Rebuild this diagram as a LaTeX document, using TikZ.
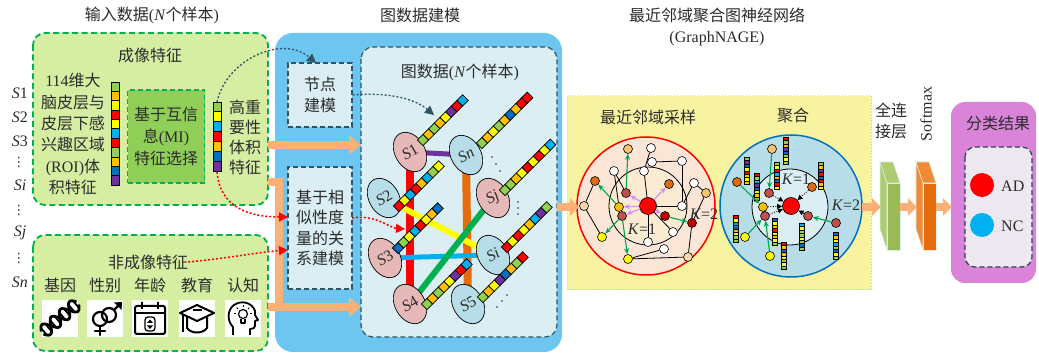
\documentclass[tikz,border=0pt]{standalone}
\usepackage{fontspec}
\setmainfont{Liberation Serif}
\newfontfamily\zhfont{Noto Sans CJK SC}
\newfontfamily\symfont{DejaVu Sans}
\newcommand\zhf[1]{{\zhfont #1}}
\usetikzlibrary{arrows.meta,shapes.geometric}

% feature colours
\definecolor{fG}{HTML}{92D050}
\definecolor{fO}{HTML}{FFC000}
\definecolor{fY}{HTML}{FFFF00}
\definecolor{fR}{HTML}{FF0000}
\definecolor{fC}{HTML}{00B0F0}
\definecolor{fB}{HTML}{0070C0}
\definecolor{fP}{HTML}{7030A0}
% panel colours
\definecolor{panelgreen}{HTML}{D5EEA2}
\definecolor{dashgreen}{HTML}{00B050}
\definecolor{migreen}{HTML}{8FCF57}
\definecolor{skyblue}{HTML}{6CC6F0}
\definecolor{paleblue}{HTML}{DAEEF3}
\definecolor{tealline}{HTML}{2E5566}
\definecolor{nodepink}{HTML}{E6B9B8}
\definecolor{nodeblue}{HTML}{B7DDE8}
\definecolor{paleyellow}{HTML}{F7F3A0}
\definecolor{yellowedge}{HTML}{C8E6A0}
\definecolor{peach}{HTML}{FAB177}
\definecolor{samplefill}{HTML}{FBE5D6}
\definecolor{sampleinner}{HTML}{FCEBD3}
\definecolor{aggedge}{HTML}{0070C0}
\definecolor{slabgreen}{HTML}{9BBB59}
\definecolor{slabgreenside}{HTML}{AECB70}
\definecolor{slaborange}{HTML}{E46C0A}
\definecolor{slaborangeside}{HTML}{F08A35}
\definecolor{resultpink}{HTML}{D984D9}
\definecolor{resultinner}{HTML}{EDE7F0}
\definecolor{txt}{HTML}{2B2B2B}
\definecolor{pinkarrow}{HTML}{DA8CEB}
\definecolor{arrowgreen}{HTML}{00A550}
\definecolor{lightorange}{HTML}{FAC46A}
\definecolor{darkorange}{HTML}{E06A10}
\definecolor{brownred}{HTML}{C0504D}
\definecolor{darkred}{HTML}{C00000}
\definecolor{peachnode}{HTML}{FBD7A6}
\definecolor{slabedge}{HTML}{D8EEE8}

% a bar of coloured cells: x, y (centre of first cell), direction angle, cell length, cell width, line width, colours
\newcommand\featbar[7]{%
  \begin{scope}[shift={(#1,#2)}, rotate=#3]
    \foreach \c [count=\i from 0] in {#7}
      \draw[fill=\c, line width=#6] ({(\i-0.5)*#4}, {-#5/2}) rectangle ({(\i+0.5)*#4}, {#5/2});
  \end{scope}}

\tikzset{
  lbl/.style={font=\fontsize{16}{21}\selectfont, text=txt, align=center, inner sep=0pt},
  vdot/.style={font=\symfont\fontsize{13}{13}\selectfont, text=txt, inner sep=0pt},
  panelg/.style={draw=dashgreen, line width=1.8pt, dash pattern=on 6pt off 3.5pt, fill=panelgreen, rounded corners=12pt},
  tealbox/.style={draw=tealline, line width=1.2pt, dash pattern=on 5pt off 3pt, fill=paleblue},
  snode/.style={ellipse, draw, line width=0.7pt, minimum width=30pt, minimum height=42pt, inner sep=0pt, rotate=30, font=\fontsize{16}{18}\selectfont, text=txt},
  gn/.style={circle, draw, line width=0.6pt, minimum size=9pt, inner sep=0pt},
  gedge/.style={line width=0.8pt},
  pinkarr/.style={draw=pinkarrow, line width=1.2pt, -{Stealth[length=6pt,width=5pt]}},
  greenarr/.style={draw=arrowgreen, line width=1.1pt, -{Stealth[length=6pt,width=5pt]}},
  blackdot/.style={line width=0.8pt, dash pattern=on 1pt off 1.5pt, -{Triangle[length=5pt,width=5pt]}},
  peachline/.style={draw=peach, line width=8pt},
  peacharrow/.style={draw=peach, line width=8pt, -{Triangle[length=12pt,width=19pt]}},
  peachsmall/.style={draw=peach, line width=8pt, -{Triangle[length=9pt,width=17pt]}},
  tealdot/.style={draw=tealline, line width=1.3pt, dash pattern=on 2pt off 2pt, -{Triangle[length=9pt,width=9pt]}},
  reddot/.style={draw=fR, line width=1.5pt, dash pattern=on 2pt off 2pt, -{Triangle[length=9pt,width=9pt]}},
  icon/.style={line width=2.2pt, line join=round, line cap=round},
}

\begin{document}
\begin{tikzpicture}[x=1pt, y=-1pt]
\useasboundingbox (0,0) rectangle (1039,355);

% ---------------- panels ----------------
\draw[panelg] (33,33) rectangle (268,205);
\draw[panelg] (33,235) rectangle (268,351);
\fill[skyblue, rounded corners=18pt] (275,33) rectangle (562,352);
\draw[tealbox, rounded corners=12pt] (361,47) rectangle (557,337);
\draw[draw=yellowedge, fill=paleyellow, line width=1pt, dash pattern=on 1.5pt off 1.5pt] (567,96) rectangle (871,290);
\draw[draw=none, fill=resultpink, rounded corners=14pt] (951,102) rectangle (1036,283);
\draw[draw=tealline!80!black, line width=1.2pt, dash pattern=on 5pt off 3pt, fill=resultinner, rounded corners=10pt] (965,147) rectangle (1032,267);

% ---------------- titles ----------------
\node[lbl] (tin) at (152,15) {\zhf{输入数据}(\textit{N}\zhf{个样本})};
\node[lbl] (tgm) at (420,15) {\zhf{图数据建模}};
\node[lbl] (tnn) at (717,27) {\zhf{最近邻域聚合图神经网络}\\(GraphNAGE)};

% ---------------- subject labels ----------------
\begin{scope}[every node/.style={lbl}]
  \node (l1) at (20,93) {\textit{S}1};
  \node (l2) at (20,117) {\textit{S}2};
  \node (l3) at (20,141) {\textit{S}3};
  \node (li) at (20,185) {\textit{Si}};
  \node (lj) at (20,233) {\textit{Sj}};
  \node (ln) at (20,282) {\textit{Sn}};
\end{scope}
\node[vdot] (d1) at (19,162) {⋮};
\node[vdot] (d2) at (19,210) {⋮};
\node[vdot] (d3) at (19,258) {⋮};

% ---------------- imaging features ----------------
\node[lbl] (imgtitle) at (150,55) {\zhf{成像特征}};
\node[lbl, font=\fontsize{16}{21.3}\selectfont] (roi) at (73,134) {114\zhf{维大}\\\zhf{脑皮层与}\\\zhf{皮层下感}\\\zhf{兴趣区域}\\(ROI)\zhf{体}\\\zhf{积特征}};
\featbar{115}{86.7}{-90}{9.36}{8}{0.7pt}{fG,fO,fY,fR,fY,fC,fR,fG,fO,fB,fP}
\node[lbl, draw=dashgreen, fill=migreen, line width=1.5pt, dash pattern=on 5pt off 3pt, minimum width=77pt, minimum height=93pt, font=\fontsize{16}{22}\selectfont] (mi) at (166,136.5) {\zhf{基于互信}\\\zhf{息}(MI)\\\zhf{特征选择}};
\featbar{217}{106.9}{-90}{9.86}{8}{0.7pt}{fG,fY,fC,fR,fO,fB,fP}
\coordinate (bartop) at (217,102);
\coordinate (barbot) at (217,172);
\node[lbl, font=\fontsize{16}{20}\selectfont] (hi) at (245,137) {\zhf{高重}\\\zhf{要性}\\\zhf{体积}\\\zhf{特征}};

% ---------------- non-imaging features ----------------
\node[lbl] (nonimg) at (148,262) {\zhf{非成像特征}};
\node[lbl] (kgene) at (60,285) {\zhf{基因}};
\node[lbl] (ksex) at (105,285) {\zhf{性别}};
\node[lbl] (kage) at (150,285) {\zhf{年龄}};
\node[lbl] (kedu) at (197,285) {\zhf{教育}};
\node[lbl] (kcog) at (243,285) {\zhf{认知}};

% gene: double helix
\begin{scope}[shift={(60,318)}]
  \fill[white] (-18,-18) rectangle (18,19);
  \begin{scope}[rotate=40]
    \draw[line width=2.8pt, domain=-23:23, samples=60] plot (\x, {6.5*sin(\x*15)});
    \draw[line width=2.8pt, domain=-23:23, samples=60] plot (\x, {-6.5*sin(\x*15)});
    \foreach \t in {-21,-15,-9,-3,3,9,15,21}
      \draw[line width=1.8pt] (\t,{6.5*sin(\t*15)}) -- (\t,{-6.5*sin(\t*15)});
  \end{scope}
\end{scope}
% sex: venus and mars
\begin{scope}[shift={(105,318)}, icon]
  \fill[white] (-18,-18) rectangle (18,19);
  \draw (-5,1) circle (7);
  \draw (-5,8) -- (-5,17);
  \draw (-10,13) -- (0,13);
  \draw (4,-3) circle (7);
  \draw (9,-8) -- (14,-13);
  \fill (17,-16) -- (9,-15.5) -- (16.5,-8) -- cycle;
\end{scope}
% age: calendar
\begin{scope}[shift={(150,318)}, line width=2pt, line join=round]
  \fill[white] (-18,-18) rectangle (18,19);
  \draw[rounded corners=2pt] (-15,-12) rectangle (15,16);
  \draw (-15,-5) -- (15,-5);
  \draw[line width=2.6pt] (-8,-16) -- (-8,-9);
  \draw[line width=2.6pt] (8,-16) -- (8,-9);
  \draw[rounded corners=3pt, line width=1.3pt] (-5,-1) rectangle (5,13);
  \fill (-3,5) -- (3,5) -- (0,1.5) -- cycle;
  \fill (-3,7.5) -- (3,7.5) -- (0,11) -- cycle;
\end{scope}
% education: mortarboard
\begin{scope}[shift={(197,318)}, line width=2pt, line join=round]
  \fill[white] (-18,-18) rectangle (18,19);
  \draw (-17,-5) -- (0,-13) -- (17,-5) -- (0,3) -- cycle;
  \draw (-10,-1) -- (-10,10) .. controls (-6,16) and (6,16) .. (10,10) -- (10,-1);
  \draw (-14,-3) -- (-14,14);
  \draw[line width=1.6pt] (-4,-8) -- (5,-8);
\end{scope}
% cognition: head with lightbulb
\begin{scope}[shift={(243,318)}, line width=1.8pt, line join=round]
  \fill[white] (-18,-18) rectangle (18,19);
  \draw (-10,17) -- (-10,9) .. controls (-16,3) and (-16,-8) .. (-9,-13)
        .. controls (-2,-18) and (9,-16) .. (12,-7) -- (12,-3) -- (15,2) -- (12,3)
        -- (12,8) .. controls (12,10) and (10,11) .. (7,11) -- (7,17);
  \draw[line width=1.2pt] (0,-4) circle (4.5);
  \draw[line width=1.2pt] (-2,1) -- (-2,5) -- (2,5) -- (2,1);
  \foreach \a in {90,135,45,180,0}
    \draw[line width=1pt] ({7*cos(\a)},{-4-7*sin(\a)}) -- ({9*cos(\a)},{-4-9*sin(\a)});
\end{scope}

% ---------------- graph modelling ----------------
\node[lbl, tealbox, minimum width=64pt, minimum height=64pt] (nodebox) at (320,95) {\zhf{节点}\\\zhf{建模}};
\node[lbl, tealbox, minimum width=64pt, minimum height=122pt, font=\fontsize{16}{20.5}\selectfont] (relbox) at (320,228) {\zhf{基于相}\\\zhf{似性度}\\\zhf{量的关}\\\zhf{系建模}};
\node[lbl] (gtitle) at (460,72) {\zhf{图数据}(\textit{N}\zhf{个样本})};

% subject positions
\coordinate (c1) at (410,152);
\coordinate (cn) at (466,155);
\coordinate (c2) at (384,198);
\coordinate (cj) at (493,198);
\coordinate (c3) at (385,258);
\coordinate (ci) at (493,255);
\coordinate (c4) at (410,304);
\coordinate (c5) at (468,304);

% similarity edges
\draw[line width=5pt, fP] (c1) -- (cn);
\draw[line width=8pt, fR] (c1) -- (c4);
\draw[line width=8pt, slaborange] (cn) -- (c5);
\draw[line width=6pt, fY] (c2) -- (ci);
\draw[line width=5pt, fC] (c3) -- (ci);
\draw[line width=6pt, dashgreen] (c4) -- (cj);

% subjects
\node[snode, fill=nodepink] (S1) at (c1) {\textit{S}1};
\node[snode, fill=nodeblue] (Sn) at (cn) {\textit{Sn}};
\node[snode, fill=nodeblue] (S2) at (c2) {\textit{S}2};
\node[snode, fill=nodepink] (Sj) at (cj) {\textit{Sj}};
\node[snode, fill=nodepink] (S3) at (c3) {\textit{S}3};
\node[snode, fill=nodeblue] (Si) at (ci) {\textit{Si}};
\node[snode, fill=nodepink] (S4) at (c4) {\textit{S}4};
\node[snode, fill=nodeblue] (S5) at (c5) {\textit{S}5};

% node feature vectors
\featbar{423}{140}{45}{8}{8}{0.7pt}{fG,fO,fG,fO,fY,fP,fR,fC}
\featbar{482}{143}{45}{8}{8}{0.7pt}{fG,fO,fY,fG,fO,fB,fO,fR,fR}
\featbar{399}{206}{45}{8}{8}{0.7pt}{fR,fY,fC,fR,fO,fC,fG,fY}
\featbar{505}{190}{45}{8}{8}{0.7pt}{fG,fG,fO,fY,fR,fY,fR,fY,fC}
\featbar{398}{248}{45}{8}{8}{0.7pt}{fB,fG,fY,fC,fR,fY,fO,fB}
\featbar{507}{247}{45}{8}{8}{0.7pt}{fR,fY,fR,fY,fO,fC,fP,fG}
\featbar{427}{304}{45}{8}{8}{0.7pt}{fG,fO,fG,fO,fY,fP,fR,fC}
\featbar{483}{297}{45}{8}{8}{0.7pt}{fG,fO,fY,fP,fB,fO,fG,fR}
\coordinate (s1bar) at (434,115);

% ellipsis dots
\foreach \p in {(492,157),(496,164),(500,171),(518,202),(518,208),(518,214),(497,307),(502,301),(507,295)}
  \fill[txt] \p circle (0.9);

% ---------------- GraphNAGE: sampling ----------------
\node[lbl] (samptitle) at (648,117) {\zhf{最近邻域采样}};
\draw[fR, fill=samplefill, line width=1.5pt] (646,206) circle (69);
\draw[fill=sampleinner, line width=0.8pt] (648,206) circle (39);
\begin{scope}[every node/.append style={gn}]
  \node[fill=lightorange] (sa) at (628,149) {};
  \node[fill=white] (sb) at (651,148) {};
  \node[fill=white] (sc) at (652,162) {};
  \node[fill=white] (sd) at (682,161) {};
  \node[fill=white] (se) at (614,171) {};
  \node[fill=white] (sf) at (644,171) {};
  \node[fill=darkorange] (sg) at (595,181) {};
  \node[fill=white] (sh) at (694,183) {};
  \node[fill=lightorange] (si) at (706,193) {};
  \node[fill=brownred] (sj) at (626,193) {};
  \node[fill=darkorange] (sk) at (669,184) {};
  \node[fill=peachnode] (sl) at (584,206) {};
  \node[fill=fO] (sm) at (619,207) {};
  \node[fill=fR, minimum size=17pt] (sC) at (648,206) {};
  \node[fill=white] (sn) at (682,206) {};
  \node[fill=brownred] (so) at (622,216) {};
  \node[fill=darkred] (sp) at (665,216) {};
  \node[fill=darkred] (sq) at (692,223) {};
  \node[fill=white] (sr) at (673,232) {};
  \node[fill=fY] (ss) at (602,237) {};
  \node[fill=white] (st) at (648,242) {};
  \node[fill=white] (su) at (664,249) {};
  \node[fill=fY] (sv) at (628,259) {};
  \node[fill=peachnode] (sw) at (688,257) {};
\end{scope}
\foreach \u/\v in {sb/sf, sc/sd, sd/sn, se/sj, sg/sl, sf/sC, sh/si, si/sq, sq/sw, sv/sw, sv/su, st/sC, sr/sC, sn/sC, sl/ss, sn/sh, se/sm}
  \draw[gedge] (\u) -- (\v);
\foreach \v in {sj, sm, so, sk, sp}
  \draw[pinkarr] (sC) -- (\v);
\draw[greenarr] (sj) -- (sa);
\draw[greenarr] (sm) -- (sg);
\draw[greenarr] (so) -- (ss);
\draw[greenarr] (so) -- (sv);
\draw[greenarr] (sp) -- (sq);
\node[lbl] (sk1) at (642,229) {\textit{K}=1};
\node[lbl] (sk2) at (704,214) {\textit{K}=2};

% ---------------- GraphNAGE: aggregation ----------------
\node[lbl] (aggtitle) at (793,115) {\zhf{聚合}};
\draw[aggedge, fill=nodeblue, line width=1.5pt] (791,206) circle (71);
\draw[fill=paleblue, line width=0.8pt] (790,207) circle (38);
\featbar{786}{139}{-90}{3.4}{5}{0.4pt}{fR,fG,fO,fP,fB,fG,fY,fG}
\featbar{747}{159}{-90}{3.4}{5}{0.4pt}{fG,fP,fB,fY,fR,fO,fY,fO}
\featbar{757}{175}{-90}{3.4}{5}{0.4pt}{fR,fG,fC,fP,fB,fY,fO,fG}
\featbar{777}{164}{-90}{3.4}{5}{0.4pt}{fG,fY,fR,fC,fO,fB,fR,fY}
\featbar{821}{164}{-90}{3.4}{5}{0.4pt}{fG,fO,fP,fR,fB,fR,fO,fY}
\featbar{736}{217}{-90}{3.4}{5}{0.4pt}{fR,fY,fC,fB,fO,fY,fG,fG}
\featbar{775}{220}{-90}{3.4}{5}{0.4pt}{fB,fY,fO,fR,fY,fO,fY,fG}
\featbar{802}{225}{-90}{3.4}{5}{0.4pt}{fC,fY,fG,fG,fY,fG,fB,fG}
\featbar{784}{244}{-90}{3.4}{5}{0.4pt}{fR,fO,fB,fO,fY,fG,fY,fG}
\featbar{836}{234}{-90}{3.4}{5}{0.4pt}{fB,fO,fY,fC,fG,fB,fY,fG}
\begin{scope}[every node/.append style={gn}]
  \node[fill=lightorange] (aa) at (772,149) {};
  \node[fill=darkorange] (ab) at (737,182) {};
  \node[fill=brownred] (ac) at (769,193) {};
  \node[fill=darkorange] (ad) at (812,187) {};
  \node[fill=fO] (ae) at (763,207) {};
  \node[fill=fR, minimum size=17pt] (aC) at (791,206) {};
  \node[fill=brownred] (af) at (765,216) {};
  \node[fill=brownred] (ag) at (808,216) {};
  \node[fill=brownred] (ah) at (836,223) {};
  \node[fill=fY] (ai) at (745,237) {};
  \node[fill=fY] (aj) at (770,256) {};
\end{scope}
\foreach \v in {ac, ae, af, ag, ad}
  \draw[blackdot] (\v) -- (aC);
\draw[greenarr] (aa) -- (ac);
\draw[greenarr] (ab) -- (ae);
\draw[greenarr] (ai) -- (af);
\draw[greenarr] (aj) -- (af);
\draw[greenarr] (ah) -- (ag);
\node[lbl] (ak1) at (796,179) {\textit{K}=1};
\node[lbl] (ak2) at (846,205) {\textit{K}=2};

% ---------------- classifier ----------------
\node[lbl] (fc) at (891,121) {\zhf{全连}\\\zhf{接层}};
\node[lbl, rotate=90] (smax) at (926,114) {Softmax};
\begin{scope}[draw=slabedge, line width=0.6pt]
  \filldraw[fill=slabgreenside] (880,162) -- (887,183) -- (887,250) -- (880,229) -- cycle;
  \filldraw[fill=slabgreenside] (880,162) -- (893,162) -- (900,183) -- (887,183) -- cycle;
  \filldraw[fill=slabgreen] (887,183) rectangle (900,250);
  \filldraw[fill=slaborangeside] (916,162) -- (923,183) -- (923,250) -- (916,229) -- cycle;
  \filldraw[fill=slaborangeside] (916,162) -- (929,162) -- (936,183) -- (923,183) -- cycle;
  \filldraw[fill=slaborange] (923,183) rectangle (936,250);
\end{scope}
\node[lbl] (restitle) at (998,123) {\zhf{分类结果}};
\fill[fR] (982,185) circle (12);
\node[lbl, anchor=west] (adlbl) at (1001,186) {AD};
\fill[fC] (982,225) circle (12);
\node[lbl, anchor=west] (nclbl) at (1001,226) {NC};

% ---------------- wide arrows ----------------
\coordinate (imgout1) at (268,145);
\coordinate (graphin1) at (361,145);
\coordinate (imgout2) at (268,182);
\coordinate (bend) at (279,307);
\coordinate (nonout) at (268,307);
\coordinate (graphin2) at (361,307);
\draw[peacharrow] (imgout1) -- (graphin1);
\draw[peachline] (imgout2) -| (bend);
\draw[peacharrow] (nonout) -- (graphin2);
\draw[peachsmall] (557,207) -- (579,207);
\draw[peachsmall] (862,207) -- (881,207);
\draw[peachsmall] (900,207) -- (917,207);
\draw[peachsmall] (936,207) -- (952,207);

% ---------------- dotted flows ----------------
\coordinate (relin1) at (288,217);
\coordinate (relin2) at (288,250);
\coordinate (relout) at (352,218);
\coordinate (s3bar) at (405,229);
\coordinate (nodein) at (316,63);
\draw[tealdot] (bartop) .. controls (226,60) and (282,34) .. (nodein);
\draw[tealdot] (nodebox.east) .. controls (390,92) and (415,99) .. (s1bar);
\draw[reddot] (barbot) .. controls (220,208) and (250,217) .. (relin1);
\draw[reddot] (nonimg.east) .. controls (230,258) and (260,252) .. (relin2);
\draw[reddot] (relout) .. controls (375,214) and (390,228) .. (s3bar);

\end{tikzpicture}
\end{document}
